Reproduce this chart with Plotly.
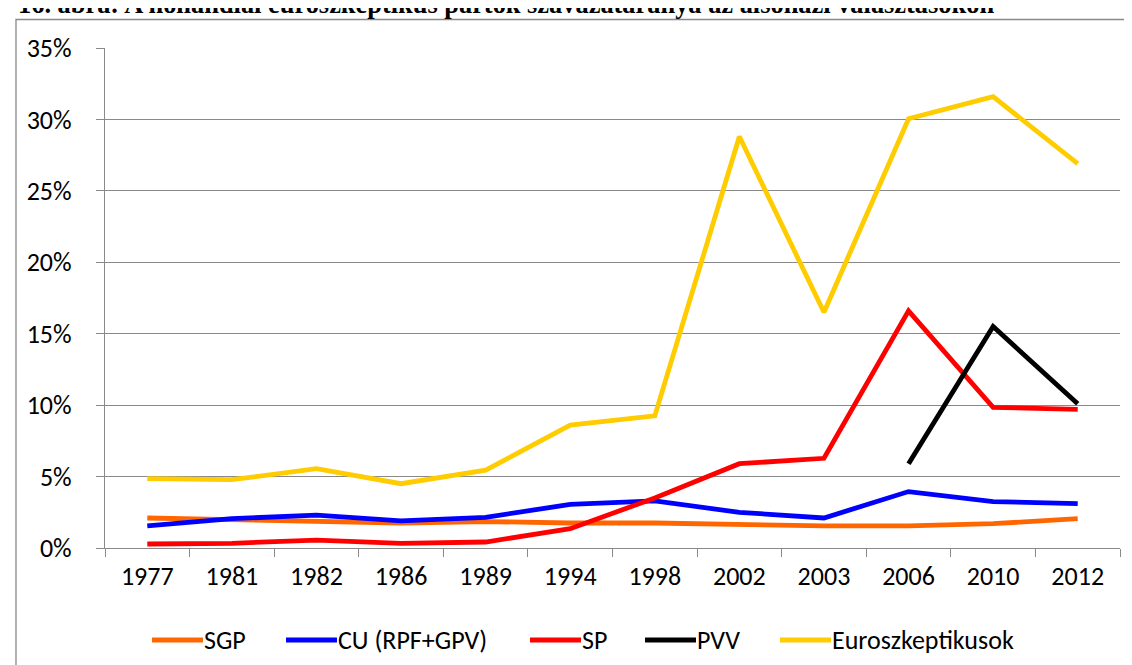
import plotly.graph_objects as go

years = ["1977", "1981", "1982", "1986", "1989", "1994", "1998", "2002", "2003", "2006", "2010", "2012"]
sgp = [2.1, 2.0, 1.9, 1.75, 1.85, 1.75, 1.75, 1.65, 1.55, 1.55, 1.7, 2.05]
cu = [1.55, 2.05, 2.3, 1.9, 2.15, 3.05, 3.3, 2.5, 2.1, 3.95, 3.25, 3.1]
sp = [0.28, 0.33, 0.55, 0.33, 0.42, 1.35, 3.5, 5.9, 6.28, 16.6, 9.85, 9.7]
pvv = [None, None, None, None, None, None, None, None, None, 5.9, 15.5, 10.1]
euro = [4.85, 4.78, 5.55, 4.5, 5.45, 8.6, 9.25, 28.8, 16.5, 30.05, 31.6, 26.9]

series_names = ["SGP", "CU (RPF+GPV)", "SP", "PVV", "Euroszkeptikusok"]
series_values = [sgp, cu, sp, pvv, euro]
series_colors = ["#FF6600", "#0000FF", "#FF0000", "#000000", "#FFCC00"]

title_text = "16. ábra: A hollandiai euroszkeptikus pártok szavazataránya az alsóházi választásokon"

W, H = 1132, 665
ML, MR, MT, MB = 97, 20, 40, 125
PW, PH = W - ML - MR, H - MT - MB

def px_x(px):
    return (px - ML) / PW

def px_y(py):
    return (H - MB - py) / PH

FONT = "Calibri, Carlito, Lato, sans-serif"
FS = 26
GRAY = "#898989"

fig = go.Figure()
for name, vals, col in zip(series_names, series_values, series_colors):
    fig.add_trace(go.Scatter(x=years, y=vals, name=name, mode="lines",
                             line=dict(color=col, width=4.8), connectgaps=False,
                             showlegend=False))

shapes = [dict(type="rect", xref="paper", yref="paper",
               x0=px_x(8), x1=px_x(1140), y0=px_y(680), y1=px_y(11.5),
               line=dict(color=GRAY, width=1.3), fillcolor="rgba(0,0,0,0)", layer="below")]
annotations = [dict(text="<b>" + title_text + "</b>", xref="paper", yref="paper", x=px_x(8), y=px_y(-4),
                    xanchor="left", yanchor="middle", showarrow=False,
                    font=dict(family="Times New Roman, Liberation Serif, serif", size=26.4, color="black"))]

# manual legend
leg_line_x = [142, 276, 520, 635, 770]
leg_y = 632
for x0, name, col in zip(leg_line_x, series_names, series_colors):
    shapes.append(dict(type="line", xref="paper", yref="paper",
                       x0=px_x(x0 + 2), x1=px_x(x0 + 53), y0=px_y(leg_y), y1=px_y(leg_y),
                       line=dict(color=col, width=5)))
    annotations.append(dict(text=name, xref="paper", yref="paper", x=px_x(x0 + 52), y=px_y(leg_y),
                            xanchor="left", yanchor="middle", showarrow=False,
                            font=dict(family=FONT, size=FS, color="black")))

fig.update_layout(
    width=W, height=H,
    margin=dict(l=ML, r=MR, t=MT, b=MB),
    paper_bgcolor="white", plot_bgcolor="white",
    shapes=shapes, annotations=annotations,
    showlegend=False,
    xaxis=dict(type="category", range=[-0.5, 11.5], tickson="boundaries", ticks="outside",
               ticklen=8, tickcolor=GRAY, tickwidth=1.3, showline=True, linecolor=GRAY, linewidth=1.3,
               showgrid=False, tickfont=dict(family=FONT, size=FS, color="black"),
               ticklabelstandoff=5, fixedrange=True),
    yaxis=dict(range=[0, 35], dtick=5, ticksuffix="%", ticks="outside", ticklen=8,
               tickcolor=GRAY, tickwidth=1.3, showline=True, linecolor=GRAY, linewidth=1.3,
               showgrid=True, gridcolor=GRAY, gridwidth=1.3, zeroline=False,
               tickfont=dict(family=FONT, size=FS, color="black"), ticklabelstandoff=19,
               fixedrange=True),
)

fig.write_html("out.html")
